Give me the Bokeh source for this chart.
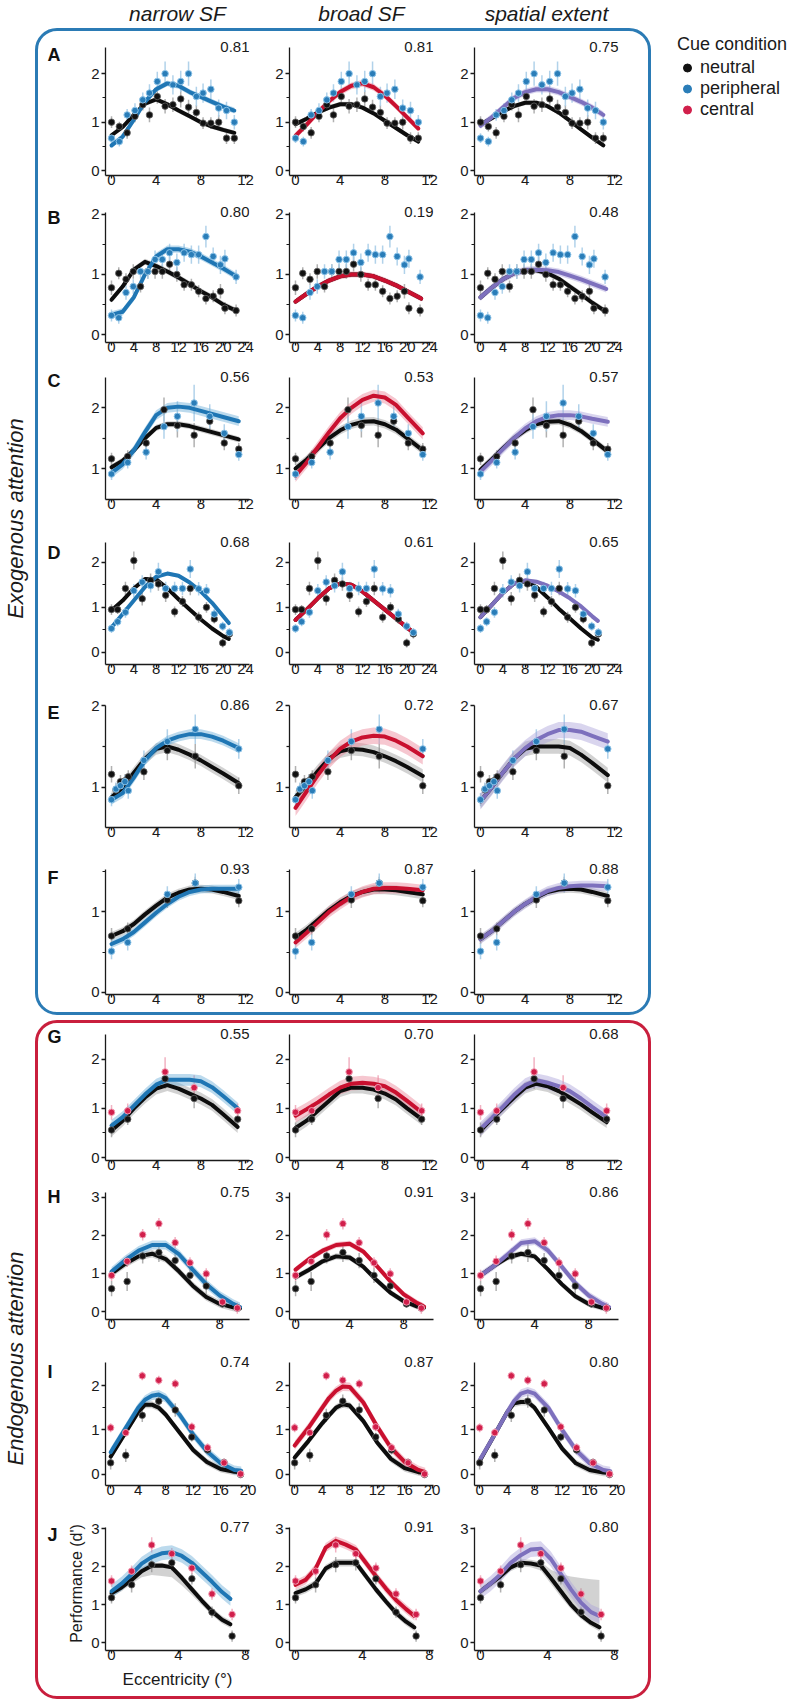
import math
from bokeh.plotting import figure
from bokeh.models import Range1d, FixedTicker, Label, Legend, LegendItem, Spacer
from bokeh.layouts import row, column
from bokeh.core.properties import value
from bokeh.embed import file_html
from bokeh.resources import INLINE

FONT = "Liberation Sans"

# ---------------------------------------------------------------- data
COL_TITLES = ["narrow SF", "broad SF", "spatial extent"]
LEGEND_TITLE = "Cue condition"
LEGEND_LABELS = ["neutral", "peripheral", "central"]
GROUP_TITLES = ["Exogenous attention", "Endogenous attention"]
Y_LABEL = "Performance (d')"
X_LABEL = "Eccentricity (°)"

# Row A
A_x = [0, 0.7, 1.4, 2.1, 2.8, 3.4, 4.1, 4.8, 5.5, 6.2, 6.9, 7.6, 8.2, 8.9, 9.6, 10.3, 11.0]
A_neutral = [1.0, 0.91, 0.78, 1.12, 1.36, 1.15, 1.53, 1.33, 1.36, 1.48, 1.31, 1.2, 0.98, 0.98, 1.0, 0.67, 0.67]
A_cued = [0.67, 0.6, 1.15, 1.24, 1.46, 1.6, 1.84, 2.0, 1.77, 1.84, 2.0, 1.53, 1.6, 1.68, 1.29, 1.24, 1.0]
A_neutral_err = [0.12, 0.1, 0.12, 0.12, 0.12, 0.15, 0.15, 0.15, 0.15, 0.18, 0.15, 0.15, 0.12, 0.12, 0.15, 0.12, 0.12]
A_cued_err = [0.1, 0.1, 0.12, 0.15, 0.15, 0.18, 0.2, 0.25, 0.2, 0.22, 0.25, 0.2, 0.2, 0.2, 0.18, 0.18, 0.15]
A_fit_x = [0, 1, 2, 3, 4, 5, 6, 7, 8, 9, 10, 11]
A_fit_neutral = [[0.73, 0.9, 1.15, 1.38, 1.47, 1.37, 1.24, 1.12, 1.0, 0.91, 0.84, 0.78],
                 [0.96, 1.07, 1.2, 1.3, 1.37, 1.37, 1.3, 1.18, 1.03, 0.88, 0.73, 0.6],
                 [0.95, 1.08, 1.22, 1.33, 1.4, 1.4, 1.33, 1.2, 1.03, 0.85, 0.68, 0.52]]
A_fit_cued = [[0.52, 0.7, 1.05, 1.42, 1.68, 1.8, 1.75, 1.62, 1.52, 1.42, 1.32, 1.24],
              [0.72, 0.95, 1.2, 1.43, 1.62, 1.75, 1.8, 1.72, 1.55, 1.33, 1.1, 0.87],
              [0.93, 1.1, 1.3, 1.5, 1.62, 1.68, 1.68, 1.62, 1.52, 1.42, 1.3, 1.15]]
A_band = [[0.05, 0.06], [0.05, 0.07], [0.05, 0.07]]
A_r2 = [0.81, 0.81, 0.75]

# Row B
B_x = [0, 1.3, 2.6, 3.9, 5.2, 6.5, 7.8, 9.1, 10.4, 11.7, 13.0, 14.3, 15.6, 16.9, 18.2, 19.5, 20.3, 22.3]
B_neutral = [0.78, 1.02, 0.92, 1.05, 0.8, 1.05, 1.05, 1.05, 1.17, 1.0, 0.83, 0.83, 0.72, 0.6, 0.64, 0.72, 0.44, 0.4]
B_cued = [0.32, 0.28, 0.7, 0.8, 1.05, 1.05, 1.25, 1.25, 1.36, 1.2, 1.36, 1.33, 1.33, 1.63, 1.3, 1.16, 1.26, 0.96]
B_neutral_err = [0.12, 0.1, 0.1, 0.12, 0.1, 0.12, 0.12, 0.12, 0.12, 0.12, 0.1, 0.1, 0.1, 0.1, 0.1, 0.12, 0.1, 0.1]
B_cued_err = [0.1, 0.1, 0.12, 0.12, 0.12, 0.12, 0.15, 0.15, 0.15, 0.15, 0.15, 0.15, 0.15, 0.18, 0.15, 0.15, 0.15, 0.12]
B_fit_x = [0, 2, 4, 6, 8, 10, 12, 14, 16, 18, 20, 22.5]
B_fit_neutral = [[0.58, 0.8, 1.08, 1.21, 1.14, 1.05, 0.95, 0.84, 0.72, 0.62, 0.5, 0.39],
                 [0.55, 0.68, 0.8, 0.9, 0.97, 1.0, 1.0, 0.97, 0.9, 0.82, 0.72, 0.6],
                 [0.62, 0.78, 0.92, 1.02, 1.07, 1.07, 1.02, 0.93, 0.8, 0.67, 0.53, 0.38]]
B_fit_cued = [[0.33, 0.38, 0.62, 1.0, 1.3, 1.42, 1.42, 1.38, 1.3, 1.2, 1.1, 0.96],
              [0.55, 0.68, 0.8, 0.9, 0.97, 1.0, 1.0, 0.97, 0.9, 0.82, 0.72, 0.6],
              [0.62, 0.78, 0.92, 1.02, 1.07, 1.08, 1.07, 1.04, 0.98, 0.92, 0.85, 0.76]]
B_band = [[0.05, 0.06], [0.04, 0.05], [0.05, 0.06]]
B_r2 = [0.80, 0.19, 0.48]

# Row C
C_x = [0, 1.45, 3.1, 4.7, 5.9, 7.4, 8.8, 10.1, 11.4]
C_neutral = [1.16, 1.2, 1.42, 1.97, 1.71, 1.55, 1.78, 1.42, 1.32]
C_cued = [0.91, 1.1, 1.27, 1.69, 1.86, 2.08, 1.86, 1.58, 1.23]
C_neutral_err = [0.1, 0.1, 0.12, 0.2, 0.2, 0.2, 0.15, 0.12, 0.1]
C_cued_err = [0.1, 0.1, 0.12, 0.2, 0.25, 0.3, 0.2, 0.15, 0.1]
C_fit_x = [0, 1, 2, 3, 4, 5, 6, 7, 8, 9, 10, 11.4]
C_fit_neutral = [[1.02, 1.13, 1.3, 1.5, 1.67, 1.73, 1.73, 1.7, 1.65, 1.6, 1.55, 1.48],
                 [1.0, 1.15, 1.33, 1.5, 1.63, 1.72, 1.77, 1.78, 1.73, 1.64, 1.5, 1.3],
                 [0.98, 1.15, 1.33, 1.5, 1.63, 1.73, 1.77, 1.78, 1.72, 1.62, 1.48, 1.28]]
C_fit_cued = [[0.93, 1.07, 1.3, 1.6, 1.88, 2.0, 2.02, 2.0, 1.95, 1.9, 1.85, 1.78],
              [0.88, 1.1, 1.35, 1.6, 1.83, 2.0, 2.13, 2.2, 2.17, 2.05, 1.85, 1.58],
              [0.95, 1.13, 1.32, 1.5, 1.66, 1.78, 1.85, 1.88, 1.88, 1.86, 1.82, 1.77]]
C_band = [[0.05, 0.08], [0.07, 0.1], [0.06, 0.08]]
C_r2 = [0.56, 0.53, 0.57]

# Row D
D_x = [0, 1.1, 2.5, 4, 5.5, 7, 8.4, 9.7, 11.3, 12.7, 14.1, 15.6, 17, 18.4, 19.9, 21.1]
D_neutral = [0.95, 0.95, 1.42, 2.04, 1.19, 1.6, 1.52, 1.27, 0.9, 1.13, 1.42, 0.78, 1.0, 0.74, 0.21, 0.41]
D_cued = [0.53, 0.68, 0.89, 1.37, 1.56, 1.48, 1.79, 1.42, 1.42, 1.42, 1.85, 1.41, 1.37, 0.85, 0.58, 0.44]
D_neutral_err = [0.12, 0.1, 0.15, 0.2, 0.15, 0.15, 0.15, 0.15, 0.12, 0.12, 0.15, 0.12, 0.12, 0.1, 0.1, 0.1]
D_cued_err = [0.1, 0.1, 0.12, 0.15, 0.15, 0.15, 0.2, 0.15, 0.15, 0.15, 0.2, 0.15, 0.15, 0.12, 0.1, 0.1]
D_fit_x = [0, 2, 4, 6, 8, 10, 12, 14, 16, 18, 20, 21]
D_fit_neutral = [[0.93, 1.15, 1.42, 1.63, 1.62, 1.42, 1.18, 0.95, 0.73, 0.53, 0.36, 0.3],
                 [0.72, 0.95, 1.2, 1.42, 1.53, 1.5, 1.35, 1.15, 0.95, 0.75, 0.55, 0.45],
                 [0.78, 1.05, 1.32, 1.53, 1.58, 1.45, 1.22, 0.97, 0.75, 0.53, 0.33, 0.28]]
D_fit_cued = [[0.55, 0.85, 1.15, 1.45, 1.68, 1.75, 1.7, 1.55, 1.35, 1.1, 0.8, 0.65],
              [0.72, 0.95, 1.2, 1.42, 1.53, 1.5, 1.35, 1.15, 0.95, 0.75, 0.55, 0.45],
              [0.78, 1.05, 1.32, 1.53, 1.6, 1.57, 1.48, 1.35, 1.2, 1.02, 0.8, 0.7]]
D_band = [[0.03, 0.04], [0.03, 0.04], [0.03, 0.04]]
D_r2 = [0.68, 0.61, 0.65]

# Row E
E_x = [0, 0.4, 0.8, 1.2, 1.5, 2.9, 5.0, 7.5, 11.4]
E_neutral = [1.16, 0.97, 1.07, 1.08, 1.13, 1.19, 1.45, 1.38, 1.02]
E_cued = [0.85, 0.98, 1.02, 1.07, 0.96, 1.33, 1.56, 1.71, 1.47]
E_neutral_err = [0.1, 0.08, 0.08, 0.08, 0.08, 0.1, 0.12, 0.15, 0.1]
E_cued_err = [0.08, 0.08, 0.08, 0.08, 0.1, 0.12, 0.15, 0.18, 0.12]
E_fit_x = [0, 1, 2, 3, 4, 5, 6, 7, 8, 9, 10, 11.4]
E_fit_neutral = [[0.88, 1.0, 1.18, 1.35, 1.47, 1.5, 1.46, 1.4, 1.33, 1.25, 1.17, 1.05],
                 [0.88, 1.03, 1.2, 1.35, 1.44, 1.47, 1.46, 1.43, 1.38, 1.32, 1.25, 1.14],
                 [0.83, 1.0, 1.18, 1.35, 1.47, 1.5, 1.5, 1.5, 1.48, 1.4, 1.3, 1.15]]
E_fit_cued = [[0.85, 0.93, 1.12, 1.33, 1.48, 1.57, 1.62, 1.65, 1.65, 1.62, 1.57, 1.48],
              [0.75, 0.95, 1.15, 1.33, 1.47, 1.56, 1.61, 1.63, 1.62, 1.57, 1.5, 1.38],
              [0.83, 1.0, 1.18, 1.35, 1.48, 1.58, 1.65, 1.7, 1.7, 1.68, 1.63, 1.56]]
E_band = [[0.07, 0.06], [0.08, 0.1], [0.09, 0.1]]
E_r2 = [0.86, 0.72, 0.67]

# Row F
F_x = [0, 1.45, 5.0, 7.5, 11.4]
F_neutral = [0.70, 0.79, 1.15, 1.36, 1.14]
F_cued = [0.51, 0.62, 1.22, 1.36, 1.31]
F_neutral_err = [0.1, 0.08, 0.1, 0.08, 0.08]
F_cued_err = [0.1, 0.1, 0.1, 0.12, 0.1]
F_fit_x = [0, 1, 2, 3, 4, 5, 6, 7, 8, 9, 10, 11.4]
F_fit_neutral = [[0.7, 0.76, 0.85, 0.97, 1.08, 1.18, 1.24, 1.28, 1.29, 1.28, 1.25, 1.2],
                 [0.68, 0.78, 0.9, 1.02, 1.12, 1.2, 1.25, 1.28, 1.28, 1.27, 1.25, 1.22],
                 [0.66, 0.76, 0.88, 1.0, 1.1, 1.18, 1.25, 1.28, 1.29, 1.28, 1.25, 1.2]]
F_fit_cued = [[0.6, 0.66, 0.75, 0.87, 0.99, 1.1, 1.19, 1.25, 1.28, 1.29, 1.29, 1.29],
              [0.62, 0.74, 0.87, 1.0, 1.1, 1.19, 1.25, 1.29, 1.3, 1.3, 1.29, 1.27],
              [0.66, 0.76, 0.88, 1.0, 1.1, 1.19, 1.26, 1.3, 1.32, 1.33, 1.33, 1.32]]
F_band = [[0.05, 0.05], [0.06, 0.07], [0.05, 0.06]]
F_r2 = [0.93, 0.87, 0.88]

# Row G
G_x = [0, 1.45, 4.8, 7.4, 11.3]
G_neutral = [0.56, 0.78, 1.6, 1.2, 0.78]
G_cued = [0.92, 0.95, 1.74, 1.42, 0.95]
G_neutral_err = [0.15, 0.12, 0.2, 0.2, 0.12]
G_cued_err = [0.15, 0.15, 0.3, 0.25, 0.15]
G_fit_x = [0, 1, 2, 3, 4, 5, 6, 7, 8, 9, 10, 11.3]
G_fit_neutral = [[0.55, 0.75, 1.0, 1.22, 1.4, 1.47, 1.4, 1.3, 1.2, 1.07, 0.88, 0.62],
                 [0.6, 0.75, 0.95, 1.15, 1.35, 1.42, 1.42, 1.38, 1.3, 1.18, 1.0, 0.78],
                 [0.55, 0.78, 1.0, 1.22, 1.42, 1.5, 1.45, 1.35, 1.22, 1.08, 0.92, 0.72]]
G_fit_cued = [[0.65, 0.82, 1.05, 1.28, 1.48, 1.58, 1.58, 1.58, 1.55, 1.43, 1.25, 1.0],
              [0.85, 0.98, 1.12, 1.28, 1.42, 1.5, 1.52, 1.5, 1.45, 1.32, 1.15, 0.92],
              [0.58, 0.8, 1.03, 1.27, 1.47, 1.57, 1.52, 1.45, 1.35, 1.2, 1.03, 0.82]]
G_band = [[0.12, 0.12], [0.12, 0.14], [0.12, 0.14]]
G_r2 = [0.55, 0.70, 0.68]

# Row H
H_x = [0, 1.15, 2.3, 3.5, 4.7, 5.8, 7.0, 8.2, 9.3]
H_neutral = [0.6, 0.79, 1.46, 1.55, 1.34, 0.95, 0.67, 0.2, 0.09]
H_cued = [0.95, 1.32, 2.02, 2.31, 1.81, 1.28, 0.99, 0.25, 0.09]
H_neutral_err = [0.2, 0.25, 0.2, 0.25, 0.2, 0.2, 0.2, 0.1, 0.1]
H_cued_err = [0.15, 0.15, 0.15, 0.15, 0.15, 0.15, 0.15, 0.1, 0.15]
H_fit_x = [0, 1, 2, 3, 4, 5, 6, 7, 8, 9, 9.5]
H_fit_neutral = [[1.0, 1.25, 1.45, 1.52, 1.38, 1.05, 0.68, 0.38, 0.2, 0.11, 0.08],
                 [0.9, 1.1, 1.32, 1.45, 1.42, 1.18, 0.82, 0.5, 0.27, 0.13, 0.1],
                 [0.95, 1.2, 1.42, 1.52, 1.45, 1.1, 0.72, 0.4, 0.2, 0.1, 0.08]]
H_fit_cued = [[1.05, 1.35, 1.6, 1.75, 1.75, 1.5, 1.1, 0.72, 0.42, 0.2, 0.12],
              [1.1, 1.38, 1.6, 1.75, 1.78, 1.58, 1.2, 0.8, 0.45, 0.22, 0.13],
              [0.95, 1.2, 1.5, 1.8, 1.85, 1.6, 1.18, 0.75, 0.42, 0.2, 0.12]]
H_band = [[0.1, 0.12], [0.08, 0.08], [0.08, 0.1]]
H_r2 = [0.75, 0.91, 0.86]

# Row I
I_x = [0, 2.2, 4.6, 7.0, 9.4, 11.8, 14.1, 16.5, 18.9]
I_neutral = [0.26, 0.43, 1.33, 1.65, 1.45, 0.84, 0.55, 0.27, 0.0]
I_cued = [1.05, 0.94, 2.22, 2.12, 2.04, 1.07, 0.6, 0.26, 0.01]
I_neutral_err = [0.15, 0.15, 0.15, 0.15, 0.15, 0.1, 0.1, 0.08, 0.08]
I_cued_err = [0.1, 0.1, 0.1, 0.1, 0.1, 0.1, 0.1, 0.1, 0.1]
I_fit_x = [0, 2, 4, 5, 6, 7, 8, 10, 12, 14, 16, 18, 19]
I_fit_neutral = [[0.4, 0.9, 1.4, 1.57, 1.57, 1.5, 1.35, 0.95, 0.55, 0.28, 0.12, 0.06, 0.05],
                 [0.38, 0.75, 1.15, 1.33, 1.5, 1.58, 1.55, 1.2, 0.72, 0.35, 0.14, 0.05, 0.03],
                 [0.3, 0.85, 1.4, 1.6, 1.63, 1.63, 1.5, 1.05, 0.58, 0.25, 0.1, 0.04, 0.03]]
I_fit_cued = [[0.5, 1.0, 1.5, 1.68, 1.77, 1.8, 1.72, 1.35, 0.9, 0.52, 0.25, 0.1, 0.08],
              [0.65, 1.05, 1.5, 1.72, 1.88, 1.98, 1.97, 1.62, 1.08, 0.6, 0.28, 0.1, 0.05],
              [0.32, 0.85, 1.4, 1.65, 1.82, 1.87, 1.82, 1.5, 1.0, 0.55, 0.25, 0.1, 0.07]]
I_band = [[0.08, 0.1], [0.08, 0.1], [0.08, 0.1]]
I_r2 = [0.74, 0.87, 0.80]

# Row J
J_x = [0, 1.2, 2.4, 3.6, 4.8, 6.0, 7.2]
J_neutral = [1.18, 1.52, 2.05, 2.1, 1.68, 0.8, 0.17]
J_cued = [1.62, 1.88, 2.57, 2.34, 1.96, 1.28, 0.74]
J_neutral_err = [0.15, 0.2, 0.2, 0.2, 0.15, 0.15, 0.15]
J_cued_err = [0.15, 0.15, 0.2, 0.15, 0.15, 0.15, 0.15]
J_fit_x = [0, 0.6, 1.2, 1.8, 2.4, 3.0, 3.6, 4.2, 4.8, 5.4, 6.0, 6.6, 7.1]
J_fit_neutral = [[1.3, 1.45, 1.65, 1.88, 2.02, 2.03, 1.98, 1.7, 1.4, 1.1, 0.82, 0.6, 0.48],
                 [1.3, 1.4, 1.55, 1.95, 2.1, 2.1, 2.1, 1.75, 1.4, 1.08, 0.78, 0.55, 0.4],
                 [1.35, 1.55, 1.75, 1.98, 2.1, 2.08, 2.03, 1.7, 1.35, 1.0, 0.72, 0.52, 0.4]]
J_fit_cued = [[1.35, 1.55, 1.8, 2.08, 2.25, 2.35, 2.38, 2.28, 2.1, 1.85, 1.6, 1.33, 1.15],
              [1.52, 1.65, 1.95, 2.5, 2.68, 2.58, 2.45, 2.1, 1.75, 1.42, 1.12, 0.88, 0.7],
              [1.35, 1.55, 1.8, 2.1, 2.3, 2.45, 2.47, 2.2, 1.8, 1.4, 1.05, 0.8, 0.7]]
J_band = [[0.15, 0.18], [0.1, 0.12], [0.2, 0.2]]
J_band1_neutral_lo = [1.2, 1.35, 1.55, 1.72, 1.78, 1.75, 1.72, 1.5, 1.25, 0.98, 0.72, 0.5, 0.38]
J_band1_neutral_hi = [1.4, 1.55, 1.75, 1.98, 2.1, 2.1, 2.05, 1.8, 1.5, 1.2, 0.92, 0.7, 0.58]
J_band3_neutral_lo = [1.25, 1.45, 1.65, 1.88, 2.0, 1.98, 1.9, 1.55, 1.2, 0.88, 0.62, 0.42, 0.3]
J_band3_neutral_hi = [1.45, 1.65, 1.85, 2.08, 2.2, 2.18, 2.13, 1.92, 1.8, 1.74, 1.7, 1.67, 1.65]
J_r2 = [0.77, 0.91, 0.80]

EXO_ROWS = ["A", "B", "C", "D", "E", "F"]
ENDO_ROWS = ["G", "H", "I", "J"]

ROWDATA = {
    "A": (A_x, A_neutral, A_cued, A_neutral_err, A_cued_err, A_fit_x, A_fit_neutral, A_fit_cued, A_band, A_r2),
    "B": (B_x, B_neutral, B_cued, B_neutral_err, B_cued_err, B_fit_x, B_fit_neutral, B_fit_cued, B_band, B_r2),
    "C": (C_x, C_neutral, C_cued, C_neutral_err, C_cued_err, C_fit_x, C_fit_neutral, C_fit_cued, C_band, C_r2),
    "D": (D_x, D_neutral, D_cued, D_neutral_err, D_cued_err, D_fit_x, D_fit_neutral, D_fit_cued, D_band, D_r2),
    "E": (E_x, E_neutral, E_cued, E_neutral_err, E_cued_err, E_fit_x, E_fit_neutral, E_fit_cued, E_band, E_r2),
    "F": (F_x, F_neutral, F_cued, F_neutral_err, F_cued_err, F_fit_x, F_fit_neutral, F_fit_cued, F_band, F_r2),
    "G": (G_x, G_neutral, G_cued, G_neutral_err, G_cued_err, G_fit_x, G_fit_neutral, G_fit_cued, G_band, G_r2),
    "H": (H_x, H_neutral, H_cued, H_neutral_err, H_cued_err, H_fit_x, H_fit_neutral, H_fit_cued, H_band, H_r2),
    "I": (I_x, I_neutral, I_cued, I_neutral_err, I_cued_err, I_fit_x, I_fit_neutral, I_fit_cued, I_band, I_r2),
    "J": (J_x, J_neutral, J_cued, J_neutral_err, J_cued_err, J_fit_x, J_fit_neutral, J_fit_cued, J_band, J_r2),
}
BAND_OVERRIDES = {("J", 0): (J_band1_neutral_lo, J_band1_neutral_hi),
                  ("J", 2): (J_band3_neutral_lo, J_band3_neutral_hi)}

# ------------------------------------------------------------- geometry / style
# (border_top, frame_height, border_bottom, x_range, y_range, x_ticks, y_ticks, y_minor)
GEOM = {
    "A": (16, 128, 23, (-0.54, 12.36), (-0.10, 2.54), [0, 4, 8, 12], [0, 1, 2], [0.5, 1.5]),
    "B": (14, 130, 23, (-1.07, 24.7), (-0.13, 2.03), [0, 4, 8, 12, 16, 20, 24], [0, 1, 2], [0.5, 1.5]),
    "C": (12, 122, 24, (-0.54, 12.36), (0.49, 2.5), [0, 4, 8, 12], [1, 2], [1.5]),
    "D": (19, 122, 25, (-1.07, 24.7), (-0.27, 2.44), [0, 4, 8, 12, 16, 20, 24], [0, 1, 2], [0.5, 1.5]),
    "E": (16, 122, 25, (-0.54, 12.36), (0.51, 2.0), [0, 4, 8, 12], [1, 2], [1.5]),
    "F": (17, 125, 18, (-0.54, 12.36), (-0.03, 1.53), [0, 4, 8, 12], [0, 1], [0.5, 1.5]),
    "G": (11, 126, 19, (-0.54, 12.36), (-0.06, 2.5), [0, 4, 8, 12], [0, 1, 2], [0.5, 1.5]),
    "H": (13, 127, 25, (-0.45, 10.2), (-0.21, 3.13), [0, 4, 8], [0, 1, 2, 3], []),
    "I": (18, 123, 26, (-0.75, 20.2), (-0.25, 2.52), [0, 4, 8, 12, 16, 20], [0, 1, 2], [0.5, 1.5]),
    "J": (16, 123, 46, (-0.36, 8.24), (-0.21, 3.03), [0, 4, 8], [0, 1, 2, 3], []),
}
FRAME_W = 144
LETTER_W = 25
BORDER_L = [42, 20, 21]
BORDER_R = [20, 20, 30]
EXT = 11  # extra frame strip above the axes, where the r^2 value sits

INK = "#1a1a1a"
BLUE = "#1f76b4"
RED = "#c9102f"
PURPLE = "#7d70bd"
CURVE_COLORS = [BLUE, RED, PURPLE]
BAND_COLORS = ["#6aaed8", "#ec8297", "#aba1da"]
BOX_BLUE = "#2b7bb5"
BOX_RED = "#c91f3d"
PT_BLUE, PT_BLUE_EDGE, ERR_BLUE = "#2a7db8", "#8cc3e8", "#a9cde8"
PT_RED, PT_RED_EDGE, ERR_RED = "#d11f4b", "#f29bb2", "#efaabb"


def bare_fig(w, h, top=0, left=0):
    p = figure(frame_width=w - left, frame_height=h - top, x_range=Range1d(0, w - left),
               y_range=Range1d(0, h - top),
               x_axis_location=None, y_axis_location=None, min_border_left=left, min_border_right=0,
               min_border_top=top, min_border_bottom=0, toolbar_location=None, output_backend="svg")
    p.grid.visible = False
    p.outline_line_color = None
    p.background_fill_color = None
    p.border_fill_color = None
    return p


def letter_fig(letter):
    bt, fh, bb = GEOM[letter][:3]
    h = bt + fh + bb
    p = bare_fig(LETTER_W, h)
    p.add_layout(Label(x=9, y=h - bt - 2, text=letter, text_align="left", text_baseline="middle",
                       text_font=FONT, text_font_size="18px", text_font_style="bold", text_color="#111111"))
    return p


def panel(letter, col, endo):
    xs, yn, yc, en, ec, fx, fn, fc, band, r2 = ROWDATA[letter]
    bt, fh, bb, xr, yr, xt, yt, ym = GEOM[letter]
    y_top = yr[1] + EXT * (yr[1] - yr[0]) / fh
    p = figure(frame_width=FRAME_W, frame_height=fh + EXT, x_range=Range1d(*xr), y_range=Range1d(yr[0], y_top),
               min_border_left=BORDER_L[col], min_border_right=BORDER_R[col],
               min_border_top=bt - EXT, min_border_bottom=bb,
               toolbar_location=None, output_backend="svg")
    p.grid.visible = False
    p.outline_line_color = None
    p.background_fill_color = None
    p.border_fill_color = None

    xa, ya = p.xaxis[0], p.yaxis[0]
    xa.ticker = FixedTicker(ticks=xt, minor_ticks=[])
    ya.ticker = FixedTicker(ticks=yt, minor_ticks=ym)
    ya.bounds = (yr[0], yr[1])
    for ax in (xa, ya):
        ax.axis_line_width = 1.3
        ax.axis_line_color = INK
        ax.major_tick_line_width = 1.3
        ax.major_tick_line_color = INK
        ax.minor_tick_line_color = INK
        ax.minor_tick_line_width = 1.2
        ax.major_tick_in = 0
        ax.minor_tick_in = 0
        ax.major_label_text_font = FONT
        ax.major_label_text_font_size = "15px"
        ax.major_label_text_color = INK
    xa.major_tick_out = 3
    xa.minor_tick_out = 0
    xa.major_label_standoff = -4
    ya.major_tick_out = 4
    ya.minor_tick_out = 3
    ya.major_label_standoff = 2

    pt, pt_edge, err_c = (PT_RED, PT_RED_EDGE, ERR_RED) if endo else (PT_BLUE, PT_BLUE_EDGE, ERR_BLUE)
    cc, bc = CURVE_COLORS[col], BAND_COLORS[col]
    nfit, cfit = fn[col], fc[col]
    nb, cb = band[col]
    if (letter, col) in BAND_OVERRIDES:
        n_lo, n_hi = BAND_OVERRIDES[(letter, col)]
    else:
        n_lo, n_hi = [v - nb for v in nfit], [v + nb for v in nfit]

    # error bars
    p.segment(x0=xs, y0=[y - e for y, e in zip(yn, en)], x1=xs, y1=[y + e for y, e in zip(yn, en)],
              line_color="#a8a8a8", line_width=1.5, line_alpha=0.9)
    p.segment(x0=xs, y0=[y - e for y, e in zip(yc, ec)], x1=xs, y1=[y + e for y, e in zip(yc, ec)],
              line_color=err_c, line_width=1.5, line_alpha=0.9)
    # confidence bands
    p.varea(x=fx, y1=n_lo, y2=n_hi, fill_color="#8a8a8a", fill_alpha=0.38)
    p.varea(x=fx, y1=[v - cb for v in cfit], y2=[v + cb for v in cfit], fill_color=bc, fill_alpha=0.45)
    # model fits
    p.line(fx, nfit, line_color="#0d0d0d", line_width=4, line_cap="round", line_join="round")
    p.line(fx, cfit, line_color=cc, line_width=4, line_cap="round", line_join="round")
    # observed data
    p.scatter(xs, yn, marker="circle", size=6.5, fill_color="#111111", line_color="#666666", line_width=0.8)
    p.scatter(xs, yc, marker="circle", size=6.5, fill_color=pt, line_color=pt_edge, line_width=1.0)

    p.add_layout(Label(x=xr[1], y=yr[1], y_offset=1, text=f"{r2[col]:.2f}", text_align="right",
                       text_baseline="middle", text_font=FONT, text_font_size="15px", text_color=INK))
    if col == 0 and letter == "J":
        ya.axis_label = Y_LABEL
        ya.axis_label_text_font = FONT
        ya.axis_label_text_font_size = "16px"
        ya.axis_label_text_font_style = "normal"
        ya.axis_label_text_color = INK
        ya.axis_label_standoff = 3
        xa.axis_label = X_LABEL
        xa.axis_label_text_font = FONT
        xa.axis_label_text_font_size = "17px"
        xa.axis_label_text_font_style = "normal"
        xa.axis_label_text_color = INK
        xa.axis_label_standoff = 7
    return p


def panel_rows(letters, endo):
    return [row([letter_fig(L)] + [panel(L, c, endo) for c in range(3)], spacing=0) for L in letters]


# header with column titles
header = bare_fig(788, 28)
for cx, t in zip([177, 361, 546], COL_TITLES):
    header.add_layout(Label(x=cx, y=15, text=t, text_align="center", text_baseline="middle",
                            text_font=FONT, text_font_size="21px", text_font_style="italic", text_color=INK))

# exogenous block
exo_lab = bare_fig(35, 987)
exo_lab.add_layout(Label(x=15, y=503, text=GROUP_TITLES[0], angle=math.pi / 2, text_align="center",
                         text_baseline="middle", text_font=FONT, text_font_size="22px",
                         text_font_style="italic", text_color=INK))
blue_box = column(panel_rows(EXO_ROWS, False), spacing=0,
                  styles={"border": f"3px solid {BOX_BLUE}", "border-radius": "22px"})

leg_fig = bare_fig(137, 987, top=6, left=26)
leg_items = []
for lab, c in zip(LEGEND_LABELS, ["#111111", PT_BLUE, PT_RED]):
    r = leg_fig.scatter(x=[float("nan")], y=[float("nan")], marker="circle", size=9,
                        fill_color=c, line_color=c)
    leg_items.append(LegendItem(label=value(lab), renderers=[r]))
legend = Legend(items=leg_items, location="top_left", title=LEGEND_TITLE,
                title_text_font=FONT, title_text_font_size="18px", title_text_font_style="normal",
                title_text_color=INK, title_standoff=2,
                label_text_font=FONT, label_text_font_size="18px", label_text_color=INK,
                glyph_width=20, glyph_height=21, label_height=21, label_standoff=3, spacing=0,
                padding=0, margin=0, border_line_color=None, background_fill_alpha=0)
leg_fig.add_layout(legend)

mid = row([exo_lab, blue_box, leg_fig], spacing=0)

# endogenous block
endo_lab = bare_fig(35, 679)
endo_lab.add_layout(Label(x=15, y=341, text=GROUP_TITLES[1], angle=math.pi / 2, text_align="center",
                          text_baseline="middle", text_font=FONT, text_font_size="22px",
                          text_font_style="italic", text_color=INK))
red_box = column(panel_rows(ENDO_ROWS, True), spacing=0,
                 styles={"border": f"3px solid {BOX_RED}", "border-radius": "22px"})
bot = row([endo_lab, red_box], spacing=0)

page = column([header, mid, Spacer(width=10, height=5), bot], spacing=0)

open("out.html", "w").write(file_html(page, INLINE, "Cue condition model fits"))
